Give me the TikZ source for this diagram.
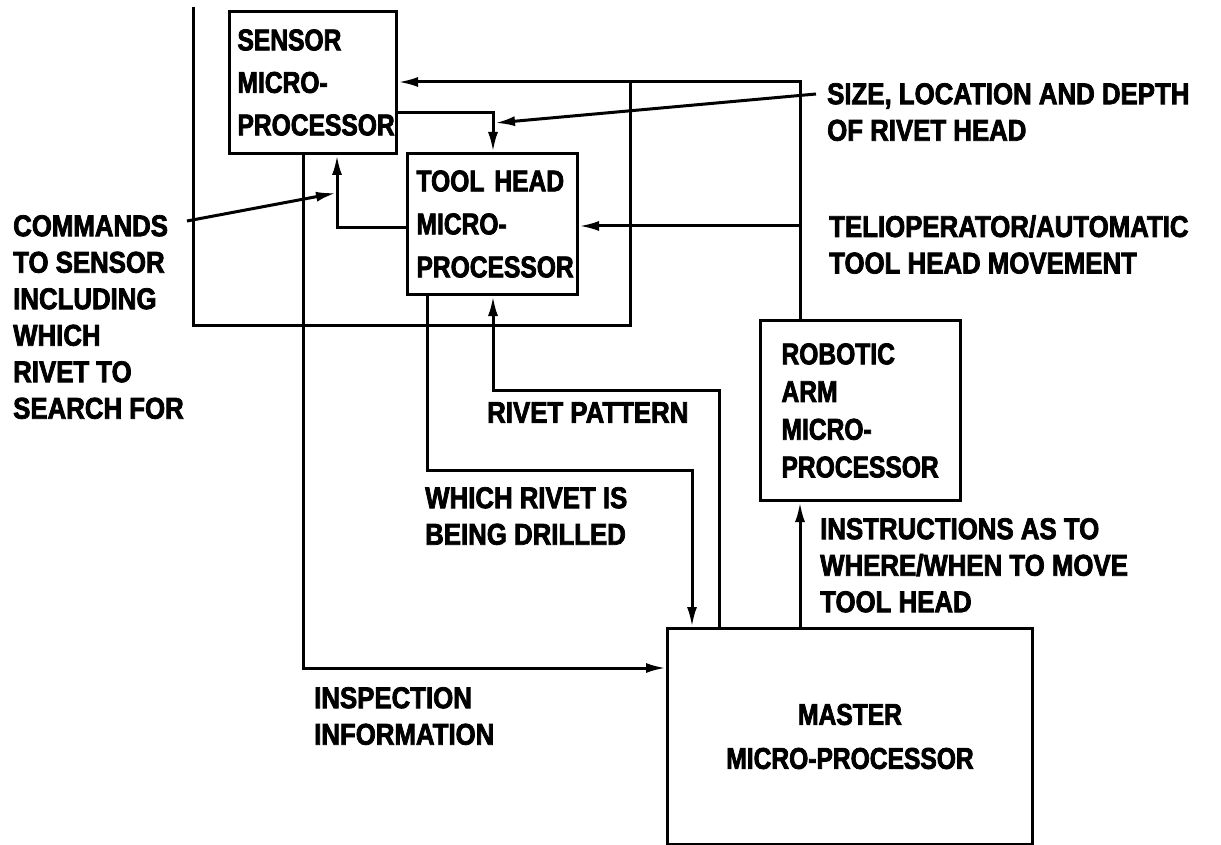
\documentclass[tikz,border=0pt]{standalone}
\usepackage{fontspec}
\usetikzlibrary{arrows.meta}
\newfontfamily\lab{Liberation Sans}[FakeStretch=0.86,FakeBold=2.5]
\newfontfamily\boxf{Liberation Sans}[FakeStretch=0.82,FakeBold=2.5]
\begin{document}
\begin{tikzpicture}[x=1pt,y=-1pt,
  wire/.style={line width=3pt},
  conn/.style={line width=3pt,-{Latex[length=20pt,width=10pt]}},
  blk/.style={draw,line width=3pt,rectangle,anchor=north west,inner ysep=0pt,align=left},
  bfont/.style={font=\boxf\bfseries\fontsize{30}{#1}\selectfont},
  lbl/.style={anchor=north west,inner sep=0pt,align=left,font=\lab\bfseries\fontsize{30}{36.5}\selectfont}]
\useasboundingbox (0,0) rectangle (1221,845);

% blocks
\node[blk,bfont=42.5,minimum width=167,minimum height=142,inner xsep=8,text width=151] (S) at (228,10) {SENSOR\\MICRO-\\PROCESSOR};
\node[blk,bfont=43,minimum width=170,minimum height=141,inner xsep=9,text width=152] (T) at (406,152) {TOOL HEAD\\MICRO-\\PROCESSOR};
\node[blk,bfont=37.7,minimum width=200,minimum height=180,inner xsep=21,text width=158] (R) at (759,319) {ROBOTIC\\ARM\\MICRO-\\PROCESSOR};
\node[blk,bfont=44,minimum width=365,minimum height=216,inner xsep=21,text width=323,align=center] (M) at (666,627) {MASTER\\MICRO-PROCESSOR};

% labels
\node[lbl] (size) at (827,83) {SIZE, LOCATION AND DEPTH\\OF RIVET HEAD};
\node[lbl] (telio) at (829,215) {TELIOPERATOR/AUTOMATIC\\TOOL HEAD MOVEMENT};
\node[lbl] (cmd) at (13,215) {COMMANDS\\TO SENSOR\\INCLUDING\\WHICH\\RIVET TO\\SEARCH FOR};
\node[lbl] (instr) at (820,518) {INSTRUCTIONS AS TO\\WHERE/WHEN TO MOVE\\TOOL HEAD};
\node[lbl] (which) at (425,487) {WHICH RIVET IS\\BEING DRILLED};
\node[lbl] (insp) at (314,687) {INSPECTION\\INFORMATION};
\node[lbl] (pat) at (487,402) {RIVET PATTERN};

% helper coordinates
\coordinate (ltop) at (193,7);
\coordinate (xS1) at (303,0);
\coordinate (xS2) at (337,0);
\coordinate (xT1) at (427,0);
\coordinate (xT2) at (493,0);
\coordinate (xM1) at (692,0);
\coordinate (xM2) at (719,0);
\coordinate (xR) at (800,0);
\coordinate (yA) at (0,82);
\coordinate (yB) at (0,113);
\coordinate (yC) at (0,226);
\coordinate (yD) at (0,228);
\coordinate (yE) at (0,668);
\coordinate (yF) at (0,470);
\coordinate (yG) at (0,390);
\coordinate (sizeTip) at (495,123);
\coordinate (cmdTip) at (336,193);

% connectors
\draw[wire] (ltop) -- (193,325) -- (630,325) -- (630,82);
\draw[conn] (R.north -| xR) -- (xR |- yA) -- (S.east |- yA);
\draw[conn] (xR |- yC) -- (T.east |- yC);
\draw[conn] (S.east |- yB) -- (xT2 |- yB) -- (T.north -| xT2);
\draw[conn] ([shift={(-11,11)}]size.north west) -- (sizeTip);
\draw[conn] (T.west |- yD) -- (xS2 |- yD) -- (S.south -| xS2);
\draw[conn] ([shift={(3,6)}]cmd.north east) -- (cmdTip);
\draw[conn] (S.south -| xS1) -- (xS1 |- yE) -- (M.west |- yE);
\draw[conn] (T.south -| xT1) -- (xT1 |- yF) -- (xM1 |- yF) -- (M.north -| xM1);
\draw[conn] (M.north -| xM2) -- (xM2 |- yG) -- (xT2 |- yG) -- (T.south -| xT2);
\draw[conn] (M.north -| xR) -- (R.south -| xR);
\end{tikzpicture}
\end{document}
